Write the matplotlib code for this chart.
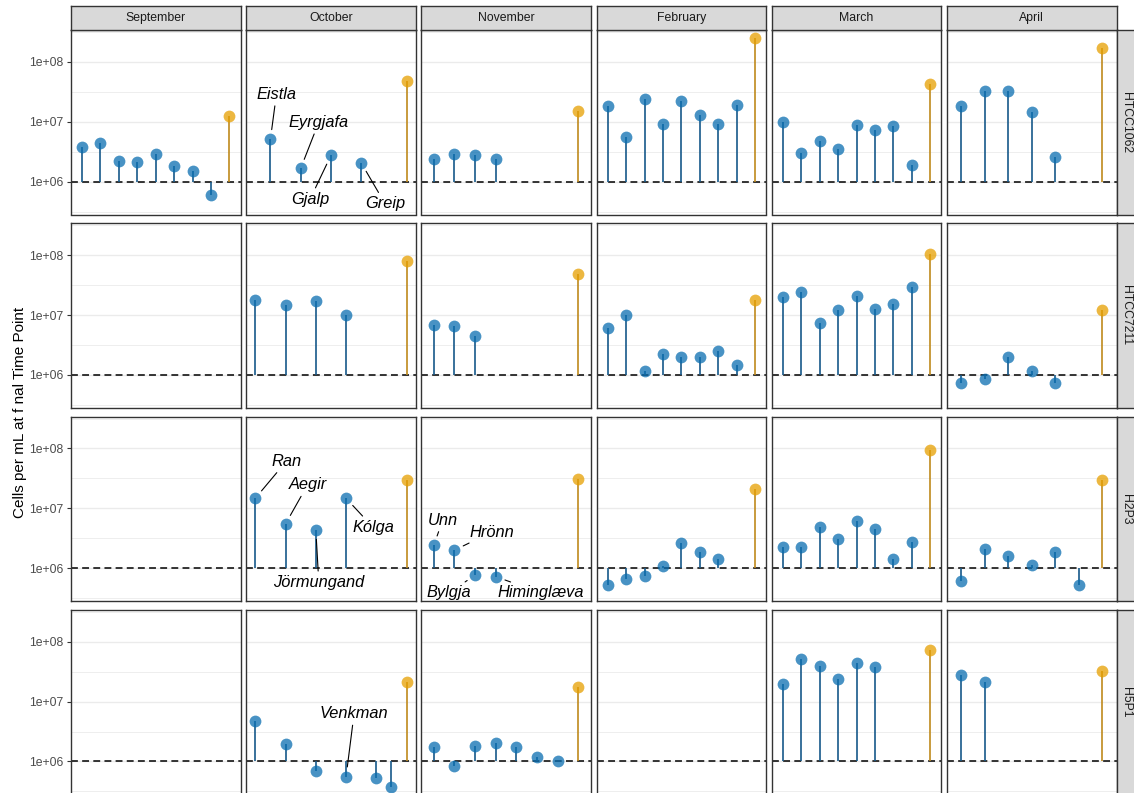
import matplotlib
matplotlib.use("Agg")
import matplotlib.pyplot as plt
from matplotlib.ticker import FixedLocator, FixedFormatter, NullFormatter

plt.rcParams["font.family"] = ["Liberation Sans", "DejaVu Sans"]

# ---------------------------------------------------------------- data
months = ["September", "October", "November", "February", "March", "April"]
hosts = ["HTCC1062", "HTCC7211", "H2P3", "H5P1"]
# number of phage/control slots on the x axis of each month
n_slots = [9, 11, 8, 9, 9, 7]

# phage lysates: month -> (slot, cells per mL at final time point)
htcc1062_slots = {
    "September": [0, 1, 2, 3, 4, 5, 6, 7],
    "October": [1, 3, 5, 7],
    "November": [0, 1, 2, 3],
    "February": [0, 1, 2, 3, 4, 5, 6, 7],
    "March": [0, 1, 2, 3, 4, 5, 6, 7],
    "April": [0, 1, 2, 3, 4],
}
htcc1062_cells = {
    "September": [3.8e6, 4.4e6, 2.25e6, 2.1e6, 2.9e6, 1.8e6, 1.5e6, 6.0e5],
    "October": [5.1e6, 1.66e6, 2.74e6, 2.05e6],
    "November": [2.39e6, 2.9e6, 2.8e6, 2.35e6],
    "February": [1.8e7, 5.5e6, 2.4e7, 9.1e6, 2.26e7, 1.29e7, 9.3e6, 1.9e7],
    "March": [9.8e6, 3.04e6, 4.76e6, 3.55e6, 8.9e6, 7.2e6, 8.6e6, 1.9e6],
    "April": [1.85e7, 3.3e7, 3.3e7, 1.45e7, 2.6e6],
}
htcc1062_control = {"September": 1.23e7, "October": 4.8e7, "November": 1.52e7,
                    "February": 2.47e8, "March": 4.3e7, "April": 1.7e8}

htcc7211_slots = {
    "October": [0, 2, 4, 6],
    "November": [0, 1, 2],
    "February": [0, 1, 2, 3, 4, 5, 6, 7],
    "March": [0, 1, 2, 3, 4, 5, 6, 7],
    "April": [0, 1, 2, 3, 4],
}
htcc7211_cells = {
    "October": [1.76e7, 1.5e7, 1.74e7, 1.0e7],
    "November": [6.8e6, 6.5e6, 4.5e6],
    "February": [6.1e6, 9.9e6, 1.16e6, 2.24e6, 1.99e6, 2.0e6, 2.55e6, 1.44e6],
    "March": [2.04e7, 2.4e7, 7.3e6, 1.21e7, 2.09e7, 1.24e7, 1.55e7, 2.9e7],
    "April": [7.3e5, 8.6e5, 1.96e6, 1.14e6, 7.3e5],
}
htcc7211_control = {"October": 8.0e7, "November": 4.9e7, "February": 1.8e7,
                    "March": 1.06e8, "April": 1.2e7}

h2p3_slots = {
    "October": [0, 2, 4, 6],
    "November": [0, 1, 2, 3],
    "February": [0, 1, 2, 3, 4, 5, 6],
    "March": [0, 1, 2, 3, 4, 5, 6, 7],
    "April": [0, 1, 2, 3, 4, 5],
}
h2p3_cells = {
    "October": [1.47e7, 5.5e6, 4.4e6, 1.47e7],
    "November": [2.43e6, 2.0e6, 7.7e5, 7.2e5],
    "February": [5.3e5, 6.5e5, 7.4e5, 1.08e6, 2.6e6, 1.83e6, 1.43e6],
    "March": [2.25e6, 2.25e6, 4.8e6, 3.1e6, 6.06e6, 4.5e6, 1.45e6, 2.76e6],
    "April": [6.2e5, 2.08e6, 1.59e6, 1.11e6, 1.88e6, 5.3e5],
}
h2p3_control = {"October": 2.95e7, "November": 3.15e7, "February": 2.09e7,
                "March": 9.6e7, "April": 2.97e7}

h5p1_slots = {
    "October": [0, 2, 4, 6, 8, 9],
    "November": [0, 1, 2, 3, 4, 5, 6],
    "March": [0, 1, 2, 3, 4, 5],
    "April": [0, 1],
}
h5p1_cells = {
    "October": [4.7e6, 1.98e6, 7.06e5, 5.6e5, 5.3e5, 3.8e5],
    "November": [1.76e6, 8.3e5, 1.83e6, 2.03e6, 1.74e6, 1.17e6, 1.0e6],
    "March": [2.0e7, 5.1e7, 4.0e7, 2.4e7, 4.45e7, 3.8e7],
    "April": [2.8e7, 2.1e7],
}
h5p1_control = {"October": 2.1e7, "November": 1.73e7, "March": 7.2e7, "April": 3.24e7}

# named phages: (host, month, slot, name)
phage_names = [
    ("HTCC1062", "October", 1, "Eistla"),
    ("HTCC1062", "October", 3, "Eyrgjafa"),
    ("HTCC1062", "October", 5, "Gjalp"),
    ("HTCC1062", "October", 7, "Greip"),
    ("H2P3", "October", 0, "Ran"),
    ("H2P3", "October", 2, "Aegir"),
    ("H2P3", "October", 4, "Jörmungand"),
    ("H2P3", "October", 6, "Kólga"),
    ("H2P3", "November", 0, "Unn"),
    ("H2P3", "November", 1, "Hrönn"),
    ("H2P3", "November", 2, "Bylgja"),
    ("H2P3", "November", 3, "Himinglæva"),
    ("H5P1", "October", 6, "Venkman"),
]

host_data = {
    "HTCC1062": (htcc1062_slots, htcc1062_cells, htcc1062_control),
    "HTCC7211": (htcc7211_slots, htcc7211_cells, htcc7211_control),
    "H2P3": (h2p3_slots, h2p3_cells, h2p3_control),
    "H5P1": (h5p1_slots, h5p1_cells, h5p1_control),
}

# ------------------------------------------------------------- styling
BASELINE = 1e6
YMIN, YMAX = 10 ** 5.45, 10 ** 8.533
BLUE_STEM, BLUE_PT = "#17598A", "#0A6EB0"
GOLD_STEM, GOLD_PT = "#BF8A1C", "#E69F00"
FRAME = "#333333"
GRID = "#EBEBEB"

# label offsets in pixels from the point (dx, dy)
label_offsets = {
    "Eistla": (6, 45), "Eyrgjafa": (18, 46), "Gjalp": (-21, -44), "Greip": (24, -41),
    "Ran": (31, 37), "Aegir": (22, 39), "Jörmungand": (3, -53), "Kólga": (27, -29),
    "Unn": (9, 25), "Hrönn": (37, 18), "Bylgja": (-26, -18), "Himinglæva": (45, -16),
    "Venkman": (8, 63),
}

W, H = 1134, 793
fig = plt.figure(figsize=(W / 100, H / 100), dpi=100, facecolor="white")


def frac(x0, y0, w, h):
    return [x0 / W, 1 - (y0 + h) / H, w / W, h / H]


PW, PH = 169.5, 184.5
lefts = [71 + 175.2 * c for c in range(6)]
tops = [30 + 193.3 * r for r in range(4)]

for r, host in enumerate(hosts):
    slots, cells, control = host_data[host]
    for c, month in enumerate(months):
        ax = fig.add_axes(frac(lefts[c], tops[r], PW, PH))
        ax.set_facecolor("none")
        n = n_slots[c]
        ax.set_xlim(-0.6, n - 1 + 0.6)
        ax.set_yscale("log")
        ax.set_ylim(YMIN, YMAX)
        ax.yaxis.set_major_locator(FixedLocator([1e6, 1e7, 1e8]))
        ax.yaxis.set_minor_locator(FixedLocator([10 ** 5.5, 10 ** 6.5, 10 ** 7.5, 10 ** 8.5]))
        ax.yaxis.set_minor_formatter(NullFormatter())
        ax.set_xticks([])
        ax.set_axisbelow(True)
        ax.grid(axis="y", which="major", color=GRID, lw=1.0, zorder=0)
        ax.grid(axis="y", which="minor", color=GRID, lw=0.6, zorder=0)
        ax.tick_params(axis="y", which="minor", length=0)
        if c == 0:
            ax.yaxis.set_major_formatter(FixedFormatter(["1e+06", "1e+07", "1e+08"]))
            ax.tick_params(axis="y", which="major", length=3.2, width=0.8,
                           color=FRAME, labelsize=8.8, labelcolor="#4D4D4D", pad=2)
        else:
            ax.tick_params(axis="y", which="major", length=0, labelleft=False)
        for sp in ax.spines.values():
            sp.set_color(FRAME)
            sp.set_linewidth(1.0)
            sp.set_zorder(6)

        ax.axhline(BASELINE, color="black", lw=1.1, ls=(0, (4.5, 2.8)), zorder=2)

        if month in slots:
            xs, ys = slots[month], cells[month]
            ax.vlines(xs, BASELINE, ys, color=BLUE_STEM, lw=1.2, zorder=3)
            ax.scatter(xs, ys, s=72, color=BLUE_PT, alpha=0.75, lw=0, zorder=4)
        if month in control:
            xc = n - 1
            ax.vlines([xc], BASELINE, [control[month]], color=GOLD_STEM, lw=1.2, zorder=3)
            ax.scatter([xc], [control[month]], s=72, color=GOLD_PT, alpha=0.75,
                       lw=0, zorder=4)

        for h_name, m_name, slot, name in phage_names:
            if h_name == host and m_name == month:
                val = cells[month][slots[month].index(slot)]
                dx, dy = label_offsets[name]
                ax.annotate(name, xy=(slot, val), xytext=(dx, dy),
                            textcoords="offset pixels", ha="center", va="center",
                            fontsize=11.8, fontstyle="italic", color="black",
                            annotation_clip=False, zorder=5,
                            arrowprops=dict(arrowstyle="-", color="black", lw=0.8,
                                            shrinkA=1, shrinkB=7))

        # column strip
        if r == 0:
            sx = fig.add_axes(frac(lefts[c], 6, PW, 24))
            sx.set_facecolor("#D9D9D9")
            sx.set_xticks([]); sx.set_yticks([])
            for sp in sx.spines.values():
                sp.set_color(FRAME); sp.set_linewidth(1.0)
            sx.text(0.5, 0.5, month, ha="center", va="center", fontsize=8.8,
                    color="#1A1A1A", transform=sx.transAxes)

    # row strip (runs off the right edge of the canvas)
    sy = fig.add_axes(frac(lefts[5] + PW, tops[r], 24, PH))
    sy.set_facecolor("#D9D9D9")
    sy.set_xticks([]); sy.set_yticks([])
    for sp in sy.spines.values():
        sp.set_color(FRAME); sp.set_linewidth(1.0)
    fig.text(1125.5 / W, 1 - (tops[r] + PH / 2) / H, host, ha="center", va="center",
             rotation=-90, fontsize=8.8, color="#1A1A1A")

fig.text(20 / W, 1 - 412 / H, "Cells per mL at f nal Time Point", rotation=90,
         ha="center", va="center", fontsize=11, color="black")

fig.savefig("out.png", dpi=100, facecolor="white")
